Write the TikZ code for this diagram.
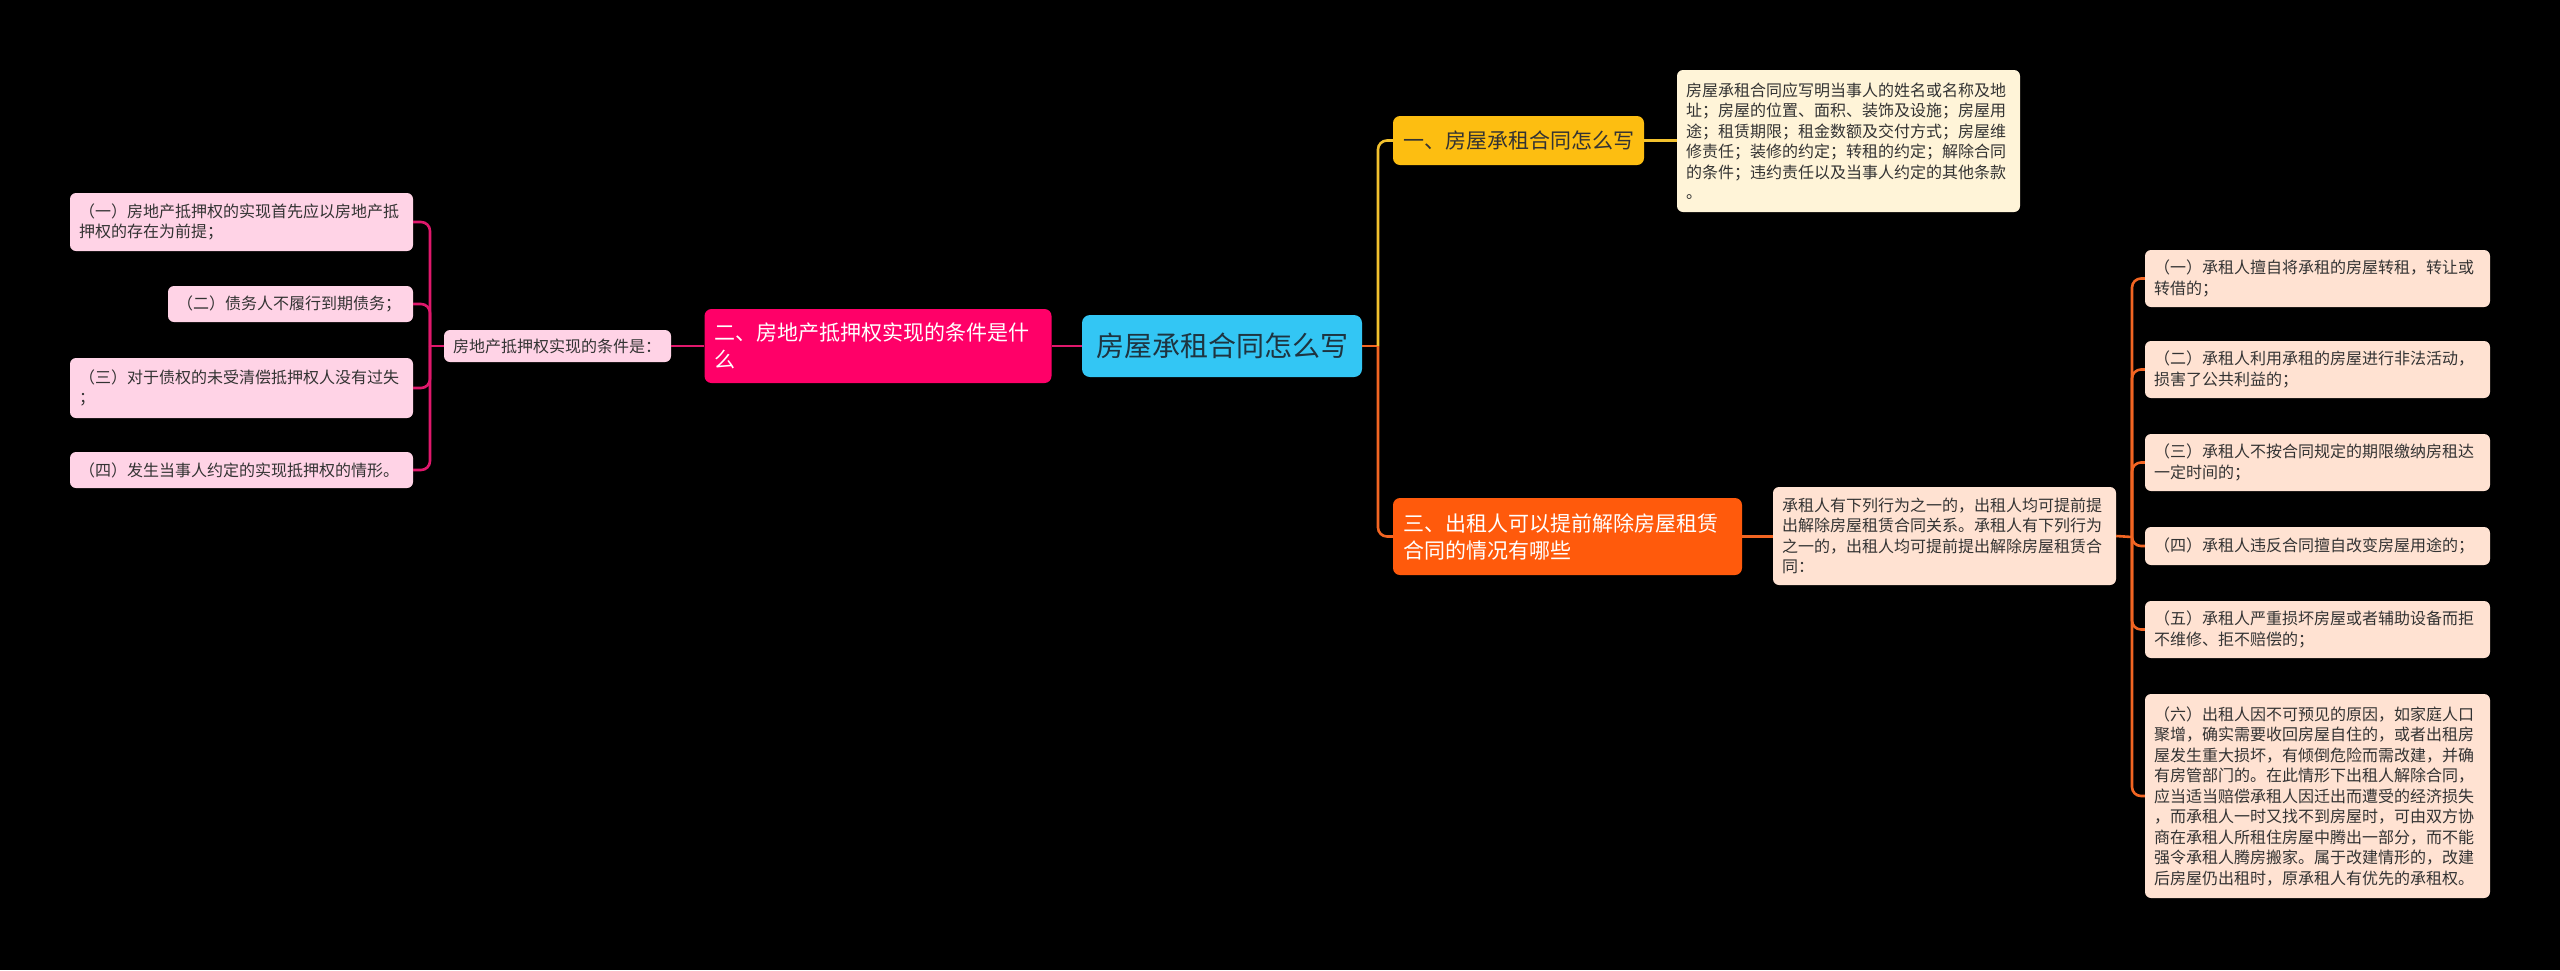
\documentclass[tikz,border=0pt]{standalone}
\usepackage{fontspec}
\setmainfont{Noto Sans CJK SC}
\definecolor{rootc}{HTML}{33C6F4}
\definecolor{roott}{HTML}{1E3440}
\definecolor{btwoc}{HTML}{FF0068}
\definecolor{pinkleaf}{HTML}{FFD3E6}
\definecolor{pinkline}{HTML}{E0186C}
\definecolor{bonec}{HTML}{FDBE11}
\definecolor{yline}{HTML}{F2C12E}
\definecolor{tonec}{HTML}{FFF4D8}
\definecolor{bthreec}{HTML}{FF5A0C}
\definecolor{oline}{HTML}{F26522}
\definecolor{peach}{HTML}{FFE2D2}
\definecolor{textdark}{HTML}{333333}
\tikzset{
  basebox/.style={rounded corners=6pt, inner ysep=0pt, inner xsep=9pt, align=left, text=textdark,
    font=\fontsize{16}{20.5}\selectfont},
  leafpink/.style={basebox, fill=pinkleaf},
  leafpeach/.style={basebox, fill=peach},
  leafcream/.style={basebox, fill=tonec},
  branchbox/.style={rounded corners=7pt, inner ysep=0pt, inner xsep=10pt, align=left,
    font=\fontsize{21}{27}\selectfont},
  rootbox/.style={rounded corners=8pt, inner sep=0pt, align=center, fill=rootc, text=roott,
    font=\fontsize{28}{34}\selectfont},
  pinkconn/.style={draw=pinkline, line width=2.6pt, rounded corners=9pt},
  yconn/.style={draw=yline, line width=2.6pt, rounded corners=9pt},
  oconn/.style={draw=oline, line width=2.6pt, rounded corners=9pt},
}
\begin{document}
\begin{tikzpicture}[x=1pt,y=-1pt]
\fill[black] (0,0) rectangle (2560,970);
\useasboundingbox (0,0) rectangle (2560,970);

% root
\node[rootbox, minimum width=280pt, minimum height=62pt] (root) at (1222,346) {房屋承租合同怎么写};

% left branch
\node[branchbox, fill=btwoc, text=white, minimum width=347pt, text width=327pt, minimum height=74pt] (b2) at (878,346) {二、房地产抵押权实现的条件是什\\么};
\node[leafpink, minimum width=227pt, text width=209pt, minimum height=32pt] (sub) at (557.5,346) {房地产抵押权实现的条件是：};
\node[leafpink, minimum width=343pt, text width=325pt, minimum height=58pt] (l1) at (241.5,222) {（一）房地产抵押权的实现首先应以房地产抵\\押权的存在为前提；};
\node[leafpink, minimum width=245pt, text width=227pt, minimum height=36pt] (l2) at (290.5,304) {（二）债务人不履行到期债务；};
\node[leafpink, minimum width=343pt, text width=325pt, minimum height=60pt] (l3) at (241.5,388) {（三）对于债权的未受清偿抵押权人没有过失\\；};
\node[leafpink, minimum width=343pt, text width=325pt, minimum height=36pt] (l4) at (241.5,470) {（四）发生当事人约定的实现抵押权的情形。};

\coordinate (jl) at (430,346);
\draw[pinkconn] (root.west) -- (b2.east);
\draw[pinkconn] (b2.west) -- (sub.east);
\draw[pinkconn] (sub.west) -- (jl);
\draw[pinkconn] (jl) |- (l1.east);
\draw[pinkconn] (jl) |- (l2.east);
\draw[pinkconn] (jl) |- (l3.east);
\draw[pinkconn] (jl) |- (l4.east);

% right top branch
\node[branchbox, fill=bonec, text=textdark, minimum width=251pt, text width=231pt, minimum height=49pt] (b1) at (1518.5,140.5) {一、房屋承租合同怎么写};
\node[leafcream, minimum width=343pt, text width=325pt, minimum height=142pt] (t1) at (1848.5,141) {房屋承租合同应写明当事人的姓名或名称及地\\址；房屋的位置、面积、装饰及设施；房屋用\\途；租赁期限；租金数额及交付方式；房屋维\\修责任；装修的约定；转租的约定；解除合同\\的条件；违约责任以及当事人约定的其他条款\\。};

% right bottom branch
\node[branchbox, fill=bthreec, text=white, minimum width=349pt, text width=329pt, minimum height=77pt] (b3) at (1567.5,536.5) {三、出租人可以提前解除房屋租赁\\合同的情况有哪些};
\node[leafpeach, minimum width=343pt, text width=325pt, minimum height=98pt] (t3) at (1944.5,536) {承租人有下列行为之一的，出租人均可提前提\\出解除房屋租赁合同关系。承租人有下列行为\\之一的，出租人均可提前提出解除房屋租赁合\\同：};

\node[leafpeach, minimum width=345pt, text width=327pt, minimum height=57pt] (r1) at (2317.5,278.5) {（一）承租人擅自将承租的房屋转租，转让或\\转借的；};
\node[leafpeach, minimum width=345pt, text width=327pt, minimum height=57pt] (r2) at (2317.5,369.5) {（二）承租人利用承租的房屋进行非法活动，\\损害了公共利益的；};
\node[leafpeach, minimum width=345pt, text width=327pt, minimum height=57pt] (r3) at (2317.5,462.5) {（三）承租人不按合同规定的期限缴纳房租达\\一定时间的；};
\node[leafpeach, minimum width=345pt, text width=327pt, minimum height=38pt] (r4) at (2317.5,546) {（四）承租人违反合同擅自改变房屋用途的；};
\node[leafpeach, minimum width=345pt, text width=327pt, minimum height=57pt] (r5) at (2317.5,629.5) {（五）承租人严重损坏房屋或者辅助设备而拒\\不维修、拒不赔偿的；};
\node[leafpeach, minimum width=345pt, text width=327pt, minimum height=204pt] (r6) at (2317.5,796) {（六）出租人因不可预见的原因，如家庭人口\\聚增，确实需要收回房屋自住的，或者出租房\\屋发生重大损坏，有倾倒危险而需改建，并确\\有房管部门的。在此情形下出租人解除合同，\\应当适当赔偿承租人因迁出而遭受的经济损失\\，而承租人一时又找不到房屋时，可由双方协\\商在承租人所租住房屋中腾出一部分，而不能\\强令承租人腾房搬家。属于改建情形的，改建\\后房屋仍出租时，原承租人有优先的承租权。};

% connectors right
\coordinate (jr) at (1378,346);
\coordinate (jr2) at (2132,537);
\draw[oconn] (root.east) -- (jr);
\draw[yconn] (jr) |- (b1.west);
\draw[oconn] (jr) |- (b3.west);
\draw[yconn] (b1.east) -- (t1.west |- b1.east);
\draw[oconn] (b3.east) -- (t3.west |- b3.east);
\draw[oconn] (t3.east) -- (jr2);
\draw[oconn] (jr2) |- (r1.west);
\draw[oconn] (jr2) |- (r2.west);
\draw[oconn] (jr2) |- (r3.west);
\draw[oconn] (jr2) |- (r4.west);
\draw[oconn] (jr2) |- (r5.west);
\draw[oconn] (jr2) |- (r6.west);
\end{tikzpicture}
\end{document}
